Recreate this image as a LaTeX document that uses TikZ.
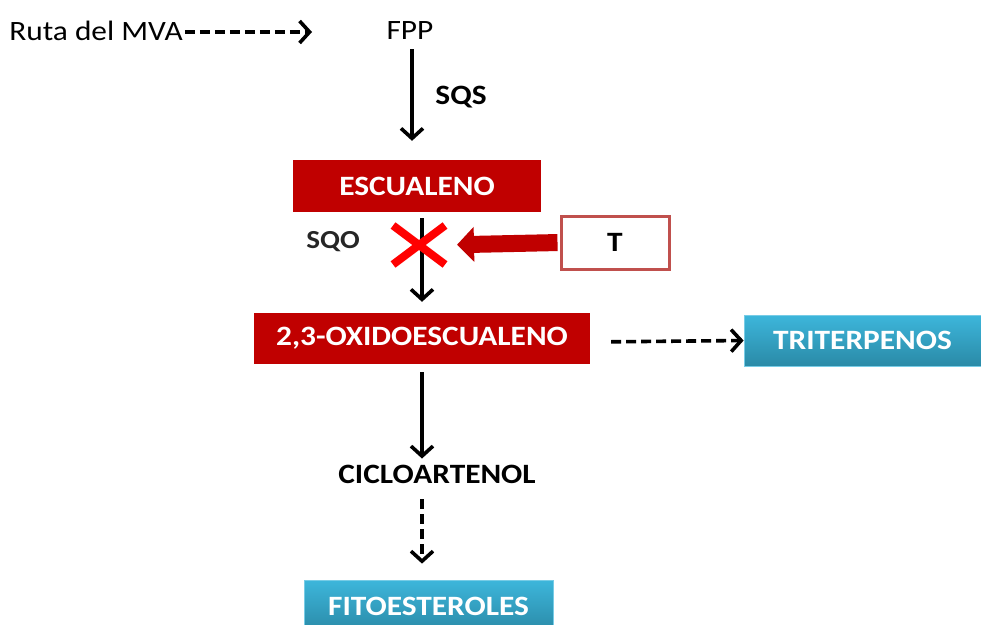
\documentclass[tikz,border=0pt]{standalone}
\usepackage{fontspec}
\setmainfont{Carlito}[FakeStretch=1.12]
\usetikzlibrary{arrows.meta,shapes.misc}
\definecolor{dred}{HTML}{C00000}
\definecolor{xred}{HTML}{FF0000}
\definecolor{tborder}{HTML}{C0504D}
\definecolor{btop}{HTML}{3DB6DB}
\definecolor{bbot}{HTML}{2A8AA7}
\tikzset{
  lbl/.style={font=\fontsize{28}{30}\selectfont, inner sep=0pt},
  blbl/.style={font=\fontsize{28}{30}\selectfont\bfseries, inner sep=0pt},
  redbox/.style={fill=dred, text=white, font=\fontsize{28}{30}\selectfont\bfseries, inner sep=0pt},
  bluebox/.style={top color=btop, bottom color=bbot, draw=btop!70!white, line width=0.8pt, text=white, font=\fontsize{28}{30}\selectfont\bfseries, inner sep=0pt},
  solidarr/.style={line width=3.6pt, -{Straight Barb[length=10pt,width=22pt,line width=3.6pt]}},
  dasharr/.style={line width=3.6pt, dash pattern=on 10pt off 5pt, -{Straight Barb[length=10pt,width=22pt,line width=3.6pt]}},
}
\begin{document}
\begin{tikzpicture}[x=1pt,y=-1pt]
\useasboundingbox (0,0) rectangle (981,624);
\node[lbl] (ruta) at (96,31) {Ruta del MVA};
\coordinate (mvaend) at (312,32);
\draw[dasharr] ([xshift=2pt,yshift=-1pt]ruta.east) -- (mvaend);
\node[lbl] (fpp) at (410,31) {FPP};
\node[redbox, minimum width=248pt, minimum height=52pt] (esc) at (417,186) {ESCUALENO};
\draw[solidarr, shorten <=9pt, shorten >=19pt] ([xshift=2pt]fpp.south) -- ([xshift=2pt]fpp.south |- esc.north);
\node[blbl] (sqs) at (461,97) {SQS};
\node[redbox, minimum width=336pt, minimum height=51pt] (oxi) at (422,338.5) {2,3-OXIDOESCUALENO};
\draw[solidarr, shorten <=6pt, shorten >=11pt] (oxi.north |- esc.south) -- (oxi.north);
\node[cross out, draw=xred, line width=8pt, minimum width=44pt, minimum height=31pt] (xx) at (419,245) {};
\node[blbl, text=black!85, font=\fontsize{26}{28}\selectfont\bfseries] (sqo) at (333,242) {SQO};
\node[draw=tborder, line width=3pt, fill=white, minimum width=108pt, minimum height=53pt, blbl] (tt) at (615,242.5) {T};
\draw[dred, line width=17pt, -{Triangle[length=17pt,width=34pt]}, shorten <=2pt, shorten >=12pt] (tt.west) -- (xx.east);
\node[bluebox, minimum width=237pt, minimum height=51pt] (tri) at (862.5,340.5) {TRITERPENOS};
\draw[dasharr, shorten <=21pt] (oxi.east |- 0,342) -- (tri.west);
\node[blbl] (ciclo) at (437,474) {CICLOARTENOL};
\draw[solidarr, shorten <=8pt, shorten >=6pt] (oxi.south) -- (oxi.south |- ciclo.north);
\node[bluebox, minimum width=249pt, minimum height=52pt] (fito) at (428.5,606) {FITOESTEROLES};
\draw[dasharr, shorten <=16pt, shorten >=16pt] (oxi.south |- ciclo.south) -- (oxi.south |- fito.north);
\end{tikzpicture}
\end{document}
